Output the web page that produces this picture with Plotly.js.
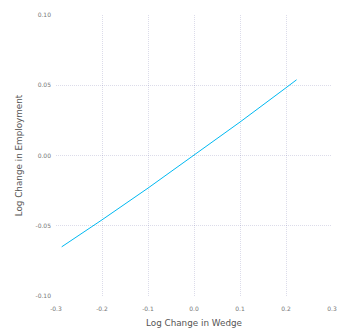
<!DOCTYPE html>
<html><head><meta charset="utf-8">
<script src="https://cdn.plot.ly/plotly-3.0.1.min.js"></script>
<style>html,body{margin:0;padding:0;background:#fff}</style>
</head><body><div id="chart" style="width:340px;height:331px"></div>
<script>
var wedge = [-0.2876, -0.2, -0.1, 0.0, 0.1, 0.2, 0.223];
var employment = [-0.065, -0.0458, -0.0232, 0.0, 0.0238, 0.0482, 0.0539];
var xTicks = [-0.3, -0.2, -0.1, 0.0, 0.1, 0.2, 0.3];
var xTickText = ["-0.3", "-0.2", "-0.1", "0.0", "0.1", "0.2", "0.3"];
var yTicks = [-0.10, -0.05, 0.00, 0.05, 0.10];
var yTickText = ["-0.10", "-0.05", "0.00", "0.05", "0.10"];

var trace = {x: wedge, y: employment, mode: 'lines', type: 'scatter',
  line: {color: '#00B9F2', width: 1}, showlegend: false, hoverinfo: 'none'};
var titleFont = {family: 'DejaVu Sans', size: 8.8, color: '#555'};
var axisCommon = {showgrid: true, gridcolor: 'rgba(80,80,150,0.2)', griddash: '1px,1px', gridwidth: 1,
  zeroline: false, showline: false, ticks: '', tickfont: {family: 'DejaVu Sans', size: 6, color: '#777'}};
var layout = {
  width: 340, height: 331,
  margin: {l: 56, r: 8, t: 15, b: 35},
  paper_bgcolor: '#fff', plot_bgcolor: '#fff',
  xaxis: Object.assign({}, axisCommon, {range: [-0.3, 0.3], tickvals: xTicks, ticktext: xTickText,
    ticklabelstandoff: 8,
    title: {text: 'Log Change in Wedge', standoff: 8, font: titleFont}}),
  yaxis: Object.assign({}, axisCommon, {range: [-0.1, 0.1], tickvals: yTicks, ticktext: yTickText,
    ticklabelstandoff: 4,
    title: {text: 'Log Change in Employment', standoff: 11, font: titleFont}})
};
Plotly.newPlot('chart', [trace], layout, {staticPlot: true, displayModeBar: false});
</script></body></html>
